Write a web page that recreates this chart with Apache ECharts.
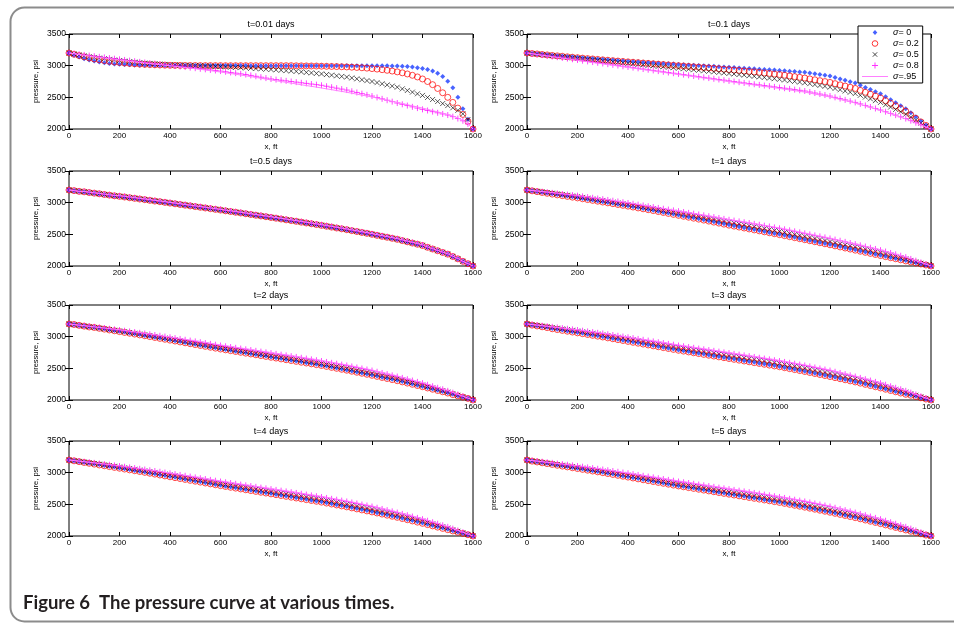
<!DOCTYPE html>
<html>
<head>
<meta charset="utf-8">
<title>Figure 6</title>
<script src="https://cdn.jsdelivr.net/npm/echarts@6/dist/echarts.min.js"></script>
<style>
    html, body { margin: 0; padding: 0; background: #fff; }
    #main { width: 954px; height: 624px; }
</style>
</head>
<body>
<div id="main"></div>
<script>
// x positions along the reservoir, ft
var xs = [0, 20, 40, 60, 80, 100, 120, 140, 160, 180, 200, 220, 240, 260, 280, 300, 320, 340, 360, 380,
    400, 420, 440, 460, 480, 500, 520, 540, 560, 580, 600, 620, 640, 660, 680, 700, 720, 740, 760, 780,
    800, 820, 840, 860, 880, 900, 920, 940, 960, 980, 1000, 1020, 1040, 1060, 1080, 1100, 1120, 1140, 1160, 1180,
    1200, 1220, 1240, 1260, 1280, 1300, 1320, 1340, 1360, 1380, 1400, 1420, 1440, 1460, 1480, 1500, 1520, 1540, 1560, 1580, 1600];

var sigmaNames = ['σ= 0', 'σ= 0.2', 'σ= 0.5', 'σ= 0.8', 'σ=.95'];
var panelTitles = ['t=0.01 days', 't=0.1 days', 't=0.5 days', 't=1 days', 't=2 days', 't=3 days', 't=4 days', 't=5 days'];
var xTicks = [0, 1600, 200];
var yTicks = [2000, 3500, 500];

// t = 0.01 days
var t001_s0 = [3200, 3165, 3135, 3110, 3090, 3072, 3058, 3046, 3036, 3028, 3022, 3017, 3013, 3010, 3008, 3006, 3005, 3004, 3003, 3002, 3002,
    3001, 3001, 3001, 3001, 3001, 3001, 3001, 3001, 3001, 3001, 3001, 3001, 3001, 3001, 3001,
    3000, 3000, 3000, 3000, 3000, 3000, 3000, 3000, 3000, 3000, 3000, 3000, 3000, 3000, 3000, 3000, 3000, 3000, 3000, 3000, 3000, 3000, 3000, 3000, 3000,
    2999, 2998, 2997, 2995, 2993, 2990, 2985, 2978, 2968, 2955, 2938, 2915, 2880, 2830, 2755, 2650, 2500, 2320, 2155, 2000];
var t001_s02 = [3200, 3180, 3160, 3140, 3122, 3106, 3092, 3080, 3068, 3058, 3050, 3042, 3035, 3029, 3024, 3020, 3016, 3013, 3010, 3008, 3006,
    3005, 3004, 3003, 3002, 3002, 3001, 3001, 3001, 3001, 3001,
    3000, 3000, 3000, 3000, 3000, 3000, 3000, 3000, 3000, 3000, 3000, 3000, 3000, 3000,
    2998, 2997, 2996, 2995, 2994, 2992, 2990, 2988, 2986, 2983, 2980, 2976, 2972, 2967, 2961, 2954, 2946, 2937, 2927, 2915,
    2902, 2887, 2869, 2848, 2822, 2790, 2750, 2700, 2640, 2572, 2500, 2420, 2330, 2230, 2120, 2000];
var t001_s05 = [3200, 3184, 3169, 3155, 3142, 3130, 3120, 3110, 3100, 3090, 3080, 3072, 3064, 3056, 3048, 3040, 3035, 3030, 3025, 3020, 3015,
    3012, 3009, 3006, 3003, 3000, 2997, 2994, 2991, 2988, 2985, 2981, 2977, 2973, 2969, 2965, 2960, 2955, 2950, 2945, 2940,
    2934, 2928, 2922, 2916, 2910, 2902, 2894, 2886, 2878, 2870, 2860, 2850, 2840, 2830, 2820, 2806, 2792, 2778, 2764, 2750,
    2732, 2714, 2696, 2678, 2660, 2634, 2608, 2582, 2556, 2530, 2498, 2466, 2434, 2402, 2370, 2335, 2295, 2240, 2150, 2000];
var t001_s08 = [3200, 3190, 3180, 3170, 3160, 3150, 3140, 3130, 3120, 3110, 3100, 3090, 3080, 3070, 3060, 3050, 3041, 3032, 3023, 3014, 3005,
    2996, 2987, 2978, 2969, 2960, 2951, 2942, 2933, 2924, 2915, 2904, 2893, 2882, 2871, 2860, 2846, 2832, 2818, 2804, 2790,
    2780, 2770, 2760, 2750, 2740, 2730, 2720, 2710, 2700, 2690, 2675, 2660, 2645, 2630, 2615, 2596, 2577, 2558, 2539, 2520,
    2498, 2476, 2454, 2432, 2410, 2390, 2370, 2350, 2330, 2310, 2292, 2274, 2256, 2238, 2220, 2195, 2165, 2130, 2080, 2000];
var t001_s95 = [3200, 3188, 3176, 3164, 3152, 3140, 3130, 3120, 3110, 3100, 3090, 3080, 3071, 3061, 3052, 3042, 3033, 3024, 3016, 3007, 2998,
    2989, 2980, 2970, 2961, 2952, 2942, 2931, 2921, 2910, 2900, 2888, 2876, 2864, 2852, 2840, 2827, 2814, 2801, 2788, 2775,
    2762, 2750, 2737, 2725, 2712, 2699, 2686, 2674, 2661, 2648, 2634, 2621, 2607, 2594, 2580, 2565, 2550, 2535, 2520, 2505,
    2488, 2471, 2454, 2437, 2420, 2402, 2384, 2366, 2348, 2330, 2310, 2290, 2270, 2250, 2230, 2205, 2175, 2135, 2080, 2000];

// t = 0.1 days
var t01_s0 = [3200, 3193, 3186, 3179, 3172, 3165, 3158, 3152, 3145, 3139, 3132, 3126, 3119, 3113, 3106, 3100, 3094, 3088, 3082, 3076, 3070,
    3065, 3060, 3055, 3050, 3045, 3040, 3035, 3030, 3025, 3020, 3016, 3011, 3007, 3002, 2998, 2993, 2989, 2984, 2980, 2975,
    2970, 2965, 2960, 2955, 2950, 2945, 2940, 2935, 2930, 2925, 2919, 2913, 2907, 2901, 2895, 2883, 2871, 2859, 2847, 2835,
    2813, 2791, 2769, 2747, 2725, 2691, 2657, 2623, 2589, 2555, 2508, 2461, 2414, 2367, 2320, 2256, 2192, 2128, 2064, 2000];
var t01_s02 = [3200, 3192, 3185, 3177, 3170, 3162, 3155, 3148, 3140, 3133, 3126, 3119, 3112, 3106, 3099, 3092, 3086, 3079, 3073, 3066, 3060,
    3054, 3048, 3042, 3036, 3030, 3024, 3018, 3012, 3006, 3000, 2994, 2988, 2982, 2976, 2970, 2964, 2957, 2951, 2944, 2938,
    2931, 2924, 2916, 2909, 2902, 2894, 2885, 2877, 2868, 2860, 2849, 2838, 2827, 2816, 2805, 2791, 2777, 2763, 2749, 2735,
    2716, 2697, 2678, 2659, 2640, 2610, 2580, 2550, 2520, 2490, 2448, 2406, 2364, 2322, 2280, 2224, 2168, 2112, 2056, 2000];
var t01_s05 = [3200, 3192, 3183, 3175, 3166, 3158, 3150, 3141, 3133, 3124, 3116, 3108, 3100, 3092, 3084, 3076, 3068, 3060, 3052, 3044, 3036,
    3028, 3021, 3013, 3006, 2998, 2990, 2983, 2975, 2968, 2960, 2952, 2944, 2936, 2928, 2920, 2912, 2903, 2895, 2886, 2878,
    2869, 2860, 2851, 2842, 2833, 2823, 2814, 2804, 2795, 2785, 2774, 2763, 2752, 2741, 2730, 2716, 2702, 2688, 2674, 2660,
    2640, 2620, 2600, 2580, 2560, 2532, 2504, 2476, 2448, 2420, 2383, 2346, 2309, 2272, 2235, 2188, 2141, 2094, 2047, 2000];
var t01_s08 = [3200, 3189, 3178, 3167, 3156, 3145, 3134, 3123, 3112, 3101, 3090, 3079, 3068, 3057, 3046, 3035, 3024, 3013, 3002, 2991, 2980,
    2969, 2958, 2947, 2936, 2925, 2914, 2903, 2892, 2881, 2870, 2859, 2848, 2837, 2826, 2815, 2804, 2793, 2782, 2771, 2760,
    2749, 2739, 2728, 2718, 2707, 2697, 2686, 2676, 2665, 2655, 2644, 2633, 2622, 2611, 2600, 2584, 2568, 2552, 2536, 2520,
    2500, 2480, 2460, 2440, 2420, 2396, 2372, 2348, 2324, 2300, 2273, 2246, 2219, 2192, 2165, 2132, 2099, 2066, 2033, 2000];
var t01_s95 = [3200, 3188, 3177, 3165, 3154, 3142, 3131, 3119, 3108, 3096, 3085, 3074, 3062, 3051, 3039, 3028, 3017, 3006, 2994, 2983, 2972,
    2961, 2950, 2938, 2927, 2916, 2905, 2894, 2882, 2871, 2860, 2849, 2838, 2826, 2815, 2804, 2793, 2782, 2770, 2759, 2748,
    2737, 2726, 2716, 2705, 2694, 2683, 2672, 2662, 2651, 2640, 2628, 2617, 2605, 2594, 2582, 2567, 2551, 2536, 2520, 2505,
    2486, 2467, 2448, 2429, 2410, 2387, 2364, 2341, 2318, 2295, 2268, 2241, 2214, 2187, 2160, 2128, 2096, 2064, 2032, 2000];

// t = 0.5 days
var t05_s0 = [3200, 3190, 3179, 3169, 3158, 3148, 3138, 3127, 3117, 3106, 3096, 3086, 3075, 3065, 3054, 3044, 3033, 3022, 3012, 3001, 2990,
    2979, 2968, 2957, 2946, 2935, 2924, 2913, 2902, 2891, 2880, 2868, 2857, 2845, 2834, 2822, 2810, 2798, 2787, 2775, 2763,
    2751, 2739, 2726, 2714, 2702, 2689, 2676, 2664, 2651, 2638, 2624, 2611, 2597, 2584, 2570, 2555, 2541, 2526, 2512, 2497,
    2481, 2465, 2450, 2434, 2418, 2398, 2379, 2359, 2340, 2320, 2293, 2266, 2239, 2212, 2185, 2148, 2111, 2074, 2037, 2000];
var t05_s02 = [3200, 3190, 3179, 3171, 3160, 3150, 3140, 3129, 3119, 3108, 3099, 3089, 3078, 3068, 3057, 3047, 3036, 3025, 3015, 3004, 2993,
    2982, 2971, 2960, 2949, 2938, 2927, 2916, 2905, 2894, 2883, 2871, 2860, 2848, 2837, 2825, 2813, 2801, 2790, 2778, 2766,
    2754, 2742, 2729, 2717, 2705, 2692, 2679, 2667, 2654, 2641, 2627, 2614, 2600, 2587, 2573, 2558, 2544, 2529, 2515, 2500,
    2484, 2468, 2453, 2437, 2421, 2401, 2382, 2362, 2343, 2323, 2295, 2268, 2241, 2214, 2187, 2150, 2113, 2074, 2037, 2000];
var t05_s05 = [3200, 3190, 3179, 3172, 3161, 3151, 3141, 3130, 3120, 3109, 3102, 3092, 3081, 3071, 3060, 3050, 3039, 3028, 3018, 3007, 2996,
    2985, 2974, 2963, 2952, 2941, 2930, 2919, 2908, 2897, 2886, 2874, 2863, 2851, 2840, 2828, 2816, 2804, 2793, 2781, 2769,
    2757, 2745, 2732, 2720, 2708, 2695, 2682, 2670, 2657, 2644, 2630, 2617, 2603, 2590, 2576, 2561, 2547, 2532, 2518, 2503,
    2487, 2471, 2456, 2440, 2424, 2404, 2385, 2365, 2346, 2326, 2296, 2269, 2242, 2215, 2188, 2151, 2114, 2074, 2037, 2000];
var t05_s08 = [3200, 3190, 3179, 3175, 3164, 3154, 3144, 3133, 3123, 3112, 3108, 3098, 3087, 3077, 3066, 3056, 3045, 3034, 3024, 3013, 3002,
    2991, 2980, 2969, 2958, 2947, 2936, 2925, 2914, 2903, 2892, 2880, 2869, 2857, 2846, 2834, 2822, 2810, 2799, 2787, 2775,
    2763, 2751, 2738, 2726, 2714, 2701, 2688, 2676, 2663, 2650, 2636, 2623, 2609, 2596, 2582, 2567, 2553, 2538, 2524, 2509,
    2493, 2477, 2462, 2446, 2430, 2410, 2391, 2371, 2352, 2332, 2299, 2272, 2245, 2218, 2191, 2154, 2117, 2074, 2037, 2000];
var t05_s95 = [3200, 3190, 3179, 3177, 3166, 3156, 3146, 3135, 3125, 3114, 3111, 3101, 3090, 3080, 3069, 3059, 3048, 3037, 3027, 3016, 3005,
    2994, 2983, 2972, 2961, 2950, 2939, 2928, 2917, 2906, 2895, 2883, 2872, 2860, 2849, 2837, 2825, 2813, 2802, 2790, 2778,
    2766, 2754, 2741, 2729, 2717, 2704, 2691, 2679, 2666, 2653, 2639, 2626, 2612, 2599, 2585, 2570, 2556, 2541, 2527, 2512,
    2496, 2480, 2465, 2449, 2433, 2413, 2394, 2374, 2355, 2335, 2301, 2274, 2247, 2220, 2193, 2156, 2119, 2074, 2037, 2000];

// t = 1 day
var t1_s0 = [3200, 3188, 3176, 3164, 3152, 3140, 3128, 3116, 3104, 3092, 3080, 3067, 3054, 3041, 3028, 3015, 3002, 2989, 2976, 2963, 2950,
    2936, 2922, 2908, 2894, 2880, 2865, 2850, 2835, 2820, 2805, 2790, 2775, 2760, 2745, 2730, 2714, 2698, 2682, 2666, 2650,
    2635, 2620, 2605, 2590, 2575, 2560, 2545, 2530, 2515, 2500, 2484, 2468, 2452, 2436, 2420, 2404, 2388, 2372, 2356, 2340,
    2323, 2306, 2289, 2272, 2255, 2238, 2221, 2204, 2187, 2170, 2153, 2136, 2119, 2102, 2085, 2068, 2051, 2034, 2017, 2000];
var t1_s02 = [3200, 3187, 3174, 3161, 3148, 3135, 3123, 3111, 3099, 3087, 3075, 3062, 3049, 3036, 3023, 3010, 2997, 2984, 2971, 2958, 2945,
    2931, 2917, 2903, 2889, 2875, 2860, 2845, 2830, 2815, 2800, 2785, 2770, 2755, 2740, 2725, 2709, 2693, 2677, 2661, 2645,
    2630, 2615, 2600, 2585, 2570, 2555, 2540, 2525, 2510, 2495, 2479, 2463, 2447, 2431, 2415, 2399, 2383, 2367, 2351, 2335,
    2318, 2301, 2284, 2267, 2250, 2233, 2216, 2199, 2182, 2165, 2148, 2131, 2114, 2097, 2080, 2064, 2048, 2032, 2016, 2000];
var t1_s05 = [3200, 3190, 3180, 3170, 3160, 3150, 3139, 3128, 3117, 3106, 3095, 3083, 3071, 3059, 3047, 3035, 3022, 3009, 2996, 2983, 2970,
    2957, 2944, 2931, 2918, 2905, 2891, 2877, 2863, 2849, 2835, 2821, 2807, 2793, 2779, 2765, 2750, 2735, 2720, 2705, 2690,
    2676, 2662, 2648, 2634, 2620, 2605, 2590, 2575, 2560, 2545, 2529, 2513, 2497, 2481, 2465, 2449, 2433, 2417, 2401, 2385,
    2368, 2351, 2334, 2317, 2300, 2282, 2264, 2246, 2228, 2210, 2190, 2170, 2150, 2130, 2110, 2088, 2066, 2044, 2022, 2000];
var t1_s08 = [3200, 3191, 3182, 3173, 3164, 3155, 3146, 3137, 3128, 3119, 3110, 3099, 3088, 3077, 3066, 3055, 3043, 3031, 3019, 3007, 2995,
    2982, 2969, 2956, 2943, 2930, 2917, 2904, 2891, 2878, 2865, 2852, 2839, 2826, 2813, 2800, 2786, 2772, 2758, 2744, 2730,
    2717, 2704, 2691, 2678, 2665, 2651, 2637, 2623, 2609, 2595, 2579, 2563, 2547, 2531, 2515, 2499, 2483, 2467, 2451, 2435,
    2417, 2399, 2381, 2363, 2345, 2326, 2307, 2288, 2269, 2250, 2228, 2206, 2184, 2162, 2140, 2112, 2084, 2056, 2028, 2000];
var t1_s95 = [3200, 3192, 3184, 3176, 3168, 3160, 3151, 3142, 3133, 3124, 3115, 3104, 3093, 3082, 3071, 3060, 3048, 3036, 3024, 3012, 3000,
    2987, 2974, 2961, 2948, 2935, 2922, 2909, 2896, 2883, 2870, 2857, 2844, 2831, 2818, 2805, 2791, 2777, 2763, 2749, 2735,
    2722, 2709, 2696, 2683, 2670, 2656, 2642, 2628, 2614, 2600, 2584, 2568, 2552, 2536, 2520, 2504, 2488, 2472, 2456, 2440,
    2422, 2404, 2386, 2368, 2350, 2331, 2312, 2293, 2274, 2255, 2233, 2211, 2189, 2167, 2145, 2116, 2087, 2058, 2029, 2000];

// t = 2 .. 5 days (the upper curves are read the same in these four panels)
var t2_s0 = [3200, 3193, 3181, 3169, 3157, 3150, 3137, 3124, 3111, 3098, 3085, 3072, 3059, 3046, 3033, 3020, 3006, 2992, 2978, 2964, 2950,
    2936, 2922, 2908, 2894, 2880, 2866, 2852, 2838, 2824, 2810, 2797, 2784, 2771, 2758, 2745, 2732, 2719, 2706, 2693, 2680,
    2667, 2654, 2641, 2628, 2615, 2602, 2589, 2576, 2563, 2550, 2535, 2520, 2505, 2490, 2475, 2459, 2443, 2427, 2411, 2395,
    2378, 2361, 2344, 2327, 2310, 2291, 2272, 2253, 2234, 2215, 2195, 2175, 2155, 2135, 2115, 2089, 2068, 2047, 2026, 2000];
var t2_s02 = [3200, 3192, 3179, 3166, 3153, 3145, 3132, 3119, 3106, 3093, 3080, 3067, 3054, 3041, 3028, 3015, 3001, 2987, 2973, 2959, 2945,
    2931, 2917, 2903, 2889, 2875, 2861, 2847, 2833, 2819, 2805, 2792, 2779, 2766, 2753, 2740, 2727, 2714, 2701, 2688, 2675,
    2662, 2649, 2636, 2623, 2610, 2597, 2584, 2571, 2558, 2545, 2530, 2515, 2500, 2485, 2470, 2454, 2438, 2422, 2406, 2390,
    2373, 2356, 2339, 2322, 2305, 2286, 2267, 2248, 2229, 2210, 2190, 2170, 2150, 2130, 2110, 2085, 2065, 2045, 2025, 2000];
var t3_s0 = [3200, 3183, 3171, 3159, 3147, 3130, 3117, 3104, 3091, 3078, 3065, 3052, 3039, 3026, 3013, 3000, 2986, 2972, 2958, 2944, 2930,
    2916, 2902, 2888, 2874, 2860, 2846, 2832, 2818, 2804, 2790, 2777, 2764, 2751, 2738, 2725, 2712, 2699, 2686, 2673, 2660,
    2647, 2634, 2621, 2608, 2595, 2582, 2569, 2556, 2543, 2530, 2515, 2500, 2485, 2470, 2455, 2439, 2423, 2407, 2391, 2375,
    2358, 2341, 2324, 2307, 2290, 2271, 2252, 2233, 2214, 2195, 2175, 2155, 2135, 2115, 2095, 2079, 2058, 2037, 2016, 2000];
var t3_s02 = [3200, 3182, 3169, 3156, 3143, 3125, 3112, 3099, 3086, 3073, 3060, 3047, 3034, 3021, 3008, 2995, 2981, 2967, 2953, 2939, 2925,
    2911, 2897, 2883, 2869, 2855, 2841, 2827, 2813, 2799, 2785, 2772, 2759, 2746, 2733, 2720, 2707, 2694, 2681, 2668, 2655,
    2642, 2629, 2616, 2603, 2590, 2577, 2564, 2551, 2538, 2525, 2510, 2495, 2480, 2465, 2450, 2434, 2418, 2402, 2386, 2370,
    2353, 2336, 2319, 2302, 2285, 2266, 2247, 2228, 2209, 2190, 2170, 2150, 2130, 2110, 2090, 2075, 2055, 2035, 2015, 2000];
var t4_s0 = [3200, 3188, 3176, 3164, 3152, 3140, 3127, 3114, 3101, 3088, 3075, 3062, 3049, 3036, 3023, 3010, 2996, 2982, 2968, 2954, 2940,
    2926, 2912, 2898, 2884, 2870, 2856, 2842, 2828, 2814, 2800, 2787, 2774, 2761, 2748, 2735, 2722, 2709, 2696, 2683, 2670,
    2657, 2644, 2631, 2618, 2605, 2592, 2579, 2566, 2553, 2540, 2525, 2510, 2495, 2480, 2465, 2449, 2433, 2417, 2401, 2385,
    2368, 2351, 2334, 2317, 2300, 2281, 2262, 2243, 2224, 2205, 2185, 2165, 2145, 2125, 2105, 2084, 2063, 2042, 2021, 2000];
var t4_s02 = [3200, 3187, 3174, 3161, 3148, 3135, 3122, 3109, 3096, 3083, 3070, 3057, 3044, 3031, 3018, 3005, 2991, 2977, 2963, 2949, 2935,
    2921, 2907, 2893, 2879, 2865, 2851, 2837, 2823, 2809, 2795, 2782, 2769, 2756, 2743, 2730, 2717, 2704, 2691, 2678, 2665,
    2652, 2639, 2626, 2613, 2600, 2587, 2574, 2561, 2548, 2535, 2520, 2505, 2490, 2475, 2460, 2444, 2428, 2412, 2396, 2380,
    2363, 2346, 2329, 2312, 2295, 2276, 2257, 2238, 2219, 2200, 2180, 2160, 2140, 2120, 2100, 2080, 2060, 2040, 2020, 2000];
var t5_s0 = [3200, 3183, 3171, 3159, 3147, 3135, 3122, 3109, 3096, 3083, 3070, 3057, 3044, 3031, 3018, 3005, 2991, 2977, 2963, 2949, 2935,
    2921, 2907, 2893, 2879, 2865, 2851, 2837, 2823, 2809, 2795, 2782, 2769, 2756, 2743, 2730, 2717, 2704, 2691, 2678, 2665,
    2652, 2639, 2626, 2613, 2600, 2587, 2574, 2561, 2548, 2535, 2520, 2505, 2490, 2475, 2460, 2444, 2428, 2412, 2396, 2380,
    2363, 2346, 2329, 2312, 2295, 2276, 2257, 2238, 2219, 2200, 2180, 2160, 2140, 2120, 2100, 2079, 2058, 2037, 2016, 2000];
var t5_s02 = [3200, 3182, 3169, 3156, 3143, 3130, 3117, 3104, 3091, 3078, 3065, 3052, 3039, 3026, 3013, 3000, 2986, 2972, 2958, 2944, 2930,
    2916, 2902, 2888, 2874, 2860, 2846, 2832, 2818, 2804, 2790, 2777, 2764, 2751, 2738, 2725, 2712, 2699, 2686, 2673, 2660,
    2647, 2634, 2621, 2608, 2595, 2582, 2569, 2556, 2543, 2530, 2515, 2500, 2485, 2470, 2455, 2439, 2423, 2407, 2391, 2375,
    2358, 2341, 2324, 2307, 2290, 2271, 2252, 2233, 2214, 2195, 2175, 2155, 2135, 2115, 2095, 2075, 2055, 2035, 2015, 2000];
var t5_s05 = [3200, 3184, 3173, 3162, 3151, 3140, 3129, 3118, 3107, 3096, 3085, 3073, 3061, 3049, 3037, 3025, 3012, 2999, 2986, 2973, 2960,
    2946, 2932, 2918, 2904, 2890, 2876, 2862, 2848, 2834, 2820, 2808, 2796, 2784, 2772, 2760, 2747, 2734, 2721, 2708, 2695,
    2683, 2671, 2659, 2647, 2635, 2622, 2609, 2596, 2583, 2570, 2555, 2540, 2525, 2510, 2495, 2479, 2463, 2447, 2431, 2415,
    2398, 2381, 2364, 2347, 2330, 2310, 2290, 2270, 2250, 2230, 2208, 2186, 2164, 2142, 2120, 2095, 2070, 2045, 2020, 2000];
var late_s05 = [3200, 3189, 3178, 3167, 3156, 3145, 3134, 3123, 3112, 3101, 3090, 3078, 3066, 3054, 3042, 3030, 3017, 3004, 2991, 2978, 2965,
    2951, 2937, 2923, 2909, 2895, 2881, 2867, 2853, 2839, 2825, 2813, 2801, 2789, 2777, 2765, 2752, 2739, 2726, 2713, 2700,
    2688, 2676, 2664, 2652, 2640, 2627, 2614, 2601, 2588, 2575, 2560, 2545, 2530, 2515, 2500, 2484, 2468, 2452, 2436, 2420,
    2403, 2386, 2369, 2352, 2335, 2315, 2295, 2275, 2255, 2235, 2213, 2191, 2169, 2147, 2125, 2100, 2075, 2050, 2025, 2000];
var late_s08 = [3200, 3191, 3182, 3173, 3164, 3155, 3145, 3135, 3125, 3115, 3105, 3094, 3083, 3072, 3061, 3050, 3038, 3026, 3014, 3002, 2990,
    2977, 2964, 2951, 2938, 2925, 2912, 2899, 2886, 2873, 2860, 2848, 2836, 2824, 2812, 2800, 2788, 2776, 2764, 2752, 2740,
    2728, 2716, 2704, 2692, 2680, 2667, 2654, 2641, 2628, 2615, 2601, 2587, 2573, 2559, 2545, 2529, 2513, 2497, 2481, 2465,
    2446, 2427, 2408, 2389, 2370, 2349, 2328, 2307, 2286, 2265, 2241, 2217, 2193, 2169, 2145, 2116, 2087, 2058, 2029, 2000];
var late_s95 = [3200, 3191, 3182, 3173, 3164, 3155, 3146, 3137, 3128, 3119, 3110, 3099, 3088, 3077, 3066, 3055, 3043, 3031, 3019, 3007, 2995,
    2983, 2971, 2959, 2947, 2935, 2922, 2909, 2896, 2883, 2870, 2858, 2846, 2834, 2822, 2810, 2798, 2786, 2774, 2762, 2750,
    2738, 2726, 2714, 2702, 2690, 2677, 2664, 2651, 2638, 2625, 2611, 2597, 2583, 2569, 2555, 2539, 2523, 2507, 2491, 2475,
    2456, 2437, 2418, 2399, 2380, 2359, 2338, 2317, 2296, 2275, 2250, 2225, 2200, 2175, 2150, 2120, 2090, 2060, 2030, 2000];

var panelData = [
    [t001_s0, t001_s02, t001_s05, t001_s08, t001_s95],
    [t01_s0, t01_s02, t01_s05, t01_s08, t01_s95],
    [t05_s0, t05_s02, t05_s05, t05_s08, t05_s95],
    [t1_s0, t1_s02, t1_s05, t1_s08, t1_s95],
    [t2_s0, t2_s02, late_s05, late_s08, late_s95],
    [t3_s0, t3_s02, late_s05, late_s08, late_s95],
    [t4_s0, t4_s02, late_s05, late_s08, late_s95],
    [t5_s0, t5_s02, t5_s05, late_s08, late_s95]
];

var FONT = 'Liberation Sans';
var colLeft = [69, 527];
var rowTop = [34, 171, 305, 441];
var plotW = 404, plotH = 95;

// marker look for each sigma (matlab style: *, o, x, +, line)
var looks = [
    {type: 'scatter', symbol: 'diamond', symbolSize: 5, itemStyle: {color: '#1a3cff'}},
    {type: 'scatter', symbol: 'circle', symbolSize: 6, itemStyle: {color: 'transparent', borderColor: '#ff0000', borderWidth: 0.9}},
    {type: 'scatter', symbol: 'path://M0,0L10,10M10,0L0,10', symbolSize: 5, itemStyle: {color: 'transparent', borderColor: '#000', borderWidth: 0.8}},
    {type: 'scatter', symbol: 'path://M5,0L5,10M0,5L10,5', symbolSize: 6, itemStyle: {color: 'transparent', borderColor: '#ff00ff', borderWidth: 0.9}},
    {type: 'line', symbol: 'none', lineStyle: {color: '#ff80ff', width: 1}, itemStyle: {color: '#ff80ff'}}
];

// small svg pictures for the legend keys, so the marker keeps its size
function keyIcon(inner) {
    var svg = '<svg xmlns="http://www.w3.org/2000/svg" width="26" height="8" viewBox="0 0 26 8">' + inner + '</svg>';
    return 'image://data:image/svg+xml;charset=utf-8,' + encodeURIComponent(svg);
}
var legendIcons = [
    keyIcon('<path d="M13,1.5L15.3,4L13,6.5L10.7,4Z" fill="#1a3cff"/>'),
    keyIcon('<circle cx="13" cy="4" r="2.8" fill="none" stroke="#ff0000" stroke-width="1"/>'),
    keyIcon('<path d="M10.8,1.8L15.2,6.2M15.2,1.8L10.8,6.2" stroke="#000" stroke-width="0.9"/>'),
    keyIcon('<path d="M13,1L13,7M10,4L16,4" stroke="#ff00ff" stroke-width="1"/>'),
    keyIcon('<path d="M0,4L26,4" stroke="#ff80ff" stroke-width="1"/>')
];

var grids = [], xAxes = [], yAxes = [], titles = [], series = [];

var plainNum = function (v) { return String(v); };

panelTitles.forEach(function (name, i) {
    var left = colLeft[i % 2];
    var top = rowTop[Math.floor(i / 2)];

    grids.push({left: left, top: top, width: plotW, height: plotH, show: true, borderColor: '#000', borderWidth: 1});

    titles.push({
        text: name, left: left + plotW / 2, top: top - 14, textAlign: 'center', padding: 0,
        textStyle: {fontFamily: FONT, fontSize: 9, fontWeight: 'normal', color: '#000'}
    });

    var tick = {show: true, inside: true, length: 4, lineStyle: {color: '#000'}};

    xAxes.push({
        gridIndex: i, type: 'value', position: 'bottom', min: xTicks[0], max: xTicks[1], interval: xTicks[2],
        name: 'x, ft', nameLocation: 'middle', nameGap: 14,
        nameTextStyle: {fontFamily: FONT, fontSize: 8, color: '#000'},
        axisLine: {show: false}, axisTick: tick, splitLine: {show: false},
        axisLabel: {margin: 3, fontFamily: FONT, fontSize: 8, color: '#000', formatter: plainNum}
    });
    xAxes.push({
        gridIndex: i, type: 'value', position: 'top', min: xTicks[0], max: xTicks[1], interval: xTicks[2],
        axisLine: {show: false}, axisTick: tick, splitLine: {show: false}, axisLabel: {show: false}
    });
    yAxes.push({
        gridIndex: i, type: 'value', position: 'left', min: yTicks[0], max: yTicks[1], interval: yTicks[2],
        name: 'pressure, psi', nameLocation: 'middle', nameGap: 29,
        nameTextStyle: {fontFamily: FONT, fontSize: 7.5, color: '#000'},
        axisLine: {show: false}, axisTick: tick, splitLine: {show: false},
        axisLabel: {margin: 3, fontFamily: FONT, fontSize: 8.5, color: '#000', formatter: plainNum}
    });
    yAxes.push({
        gridIndex: i, type: 'value', position: 'right', min: yTicks[0], max: yTicks[1], interval: yTicks[2],
        axisLine: {show: false}, axisTick: tick, splitLine: {show: false}, axisLabel: {show: false}
    });

    panelData[i].forEach(function (vals, k) {
        var s = {
            name: sigmaNames[k],
            xAxisIndex: i * 2,
            yAxisIndex: i * 2,
            data: xs.map(function (x, j) { return [x, vals[j]]; }),
            silent: true,
            animation: false
        };
        var look = looks[k];
        for (var key in look) { s[key] = look[key]; }
        series.push(s);
    });
});

var chart = echarts.init(document.getElementById('main'));
chart.setOption({
    backgroundColor: '#fff',
    animation: false,
    title: titles,
    grid: grids,
    xAxis: xAxes,
    yAxis: yAxes,
    legend: {
        data: sigmaNames.map(function (n, k) { return {name: n, icon: legendIcons[k]}; }),
        orient: 'vertical',
        left: 858, top: 26,
        padding: [2, 4, 2, 4],
        itemWidth: 26, itemHeight: 8, itemGap: 2,
        backgroundColor: '#fff',
        borderColor: '#000', borderWidth: 1, borderRadius: 0,
        selectedMode: false,
        formatter: function (n) { return '{i|σ}' + n.slice(1); },
        textStyle: {
            fontFamily: FONT, fontSize: 9, color: '#000',
            rich: {i: {fontFamily: FONT, fontSize: 9, fontStyle: 'italic', color: '#000'}}
        }
    },
    graphic: [
        {
            type: 'rect', left: 8, top: 5, z: -10,
            shape: {width: 990, height: 614, r: 14},
            style: {fill: 'none', stroke: '#8c8c8c', lineWidth: 2}
        },
        {
            type: 'text', left: 23, top: 594,
            style: {text: 'Figure 6  The pressure curve at various times.', fill: '#231f20',
                font: 'bold 18.5px Lato'}
        }
    ],
    series: series
});
</script>
</body>
</html>
